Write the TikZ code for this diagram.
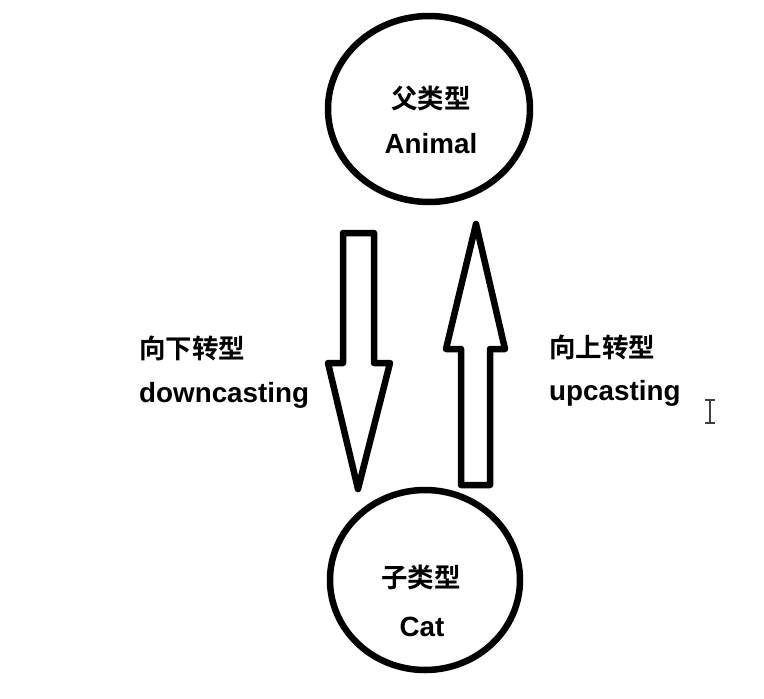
\documentclass[tikz,border=0pt]{standalone}
\usepackage{fontspec}
\newfontfamily\cjk{Noto Sans CJK SC}[BoldFont={Noto Sans CJK SC Bold}]
\newfontfamily\lat{Liberation Sans}
\usetikzlibrary{shapes.geometric}
\begin{document}
\begin{tikzpicture}[x=1pt,y=-1pt,
  ring/.style={draw=black,line width=6.5pt,ellipse,inner sep=0pt},
  blockarrow/.style={draw=black,line width=6.5pt,line join=round,fill=white},
  cjktext/.style={font=\cjk\bfseries\fontsize{26.5}{30}\selectfont,inner sep=0pt},
  lattext/.style={font=\lat\bfseries\fontsize{27.8}{30}\selectfont,inner sep=0pt,anchor=base}]
\useasboundingbox (0,0) rectangle (764,699);
\fill[white] (0,0) rectangle (764,699);
% circles
\node[ring,minimum width=202pt,minimum height=186pt] (parent) at (429,109) {};
\node[ring,minimum width=190pt,minimum height=180pt] (child) at (425,580) {};
% texts in circles
\node[cjktext] (ptitle) at (431,98) {父类型};
\node[lattext] (pname) at (431,153) {Animal};
\node[cjktext] (ctitle) at (421,577) {子类型};
\node[lattext] (cname) at (422,636) {Cat};
% down arrow
\draw[blockarrow] (343,233) -- (374,233) -- (374,363) -- (390,363) -- (358,489)
  -- (328,363) -- (343,363) -- cycle;
% up arrow
\draw[blockarrow] (461,485) -- (490,485) -- (490,349) -- (505,349) -- (476,224)
  -- (446,349) -- (461,349) -- cycle;
% side labels
\node[cjktext,anchor=west] (dtitle) at (139,348) {向下转型};
\node[lattext,anchor=base west] (dname) at (139,402) {downcasting};
\node[cjktext,anchor=west] (utitle) at (549,347) {向上转型};
\node[lattext,anchor=base west] (uname) at (549,400) {upcasting};
% text cursor
\draw[black!75,line width=1.5pt] (710,400) -- (710,423) (705,400) -- (715,400) (705,423) -- (715,423);
\end{tikzpicture}
\end{document}
